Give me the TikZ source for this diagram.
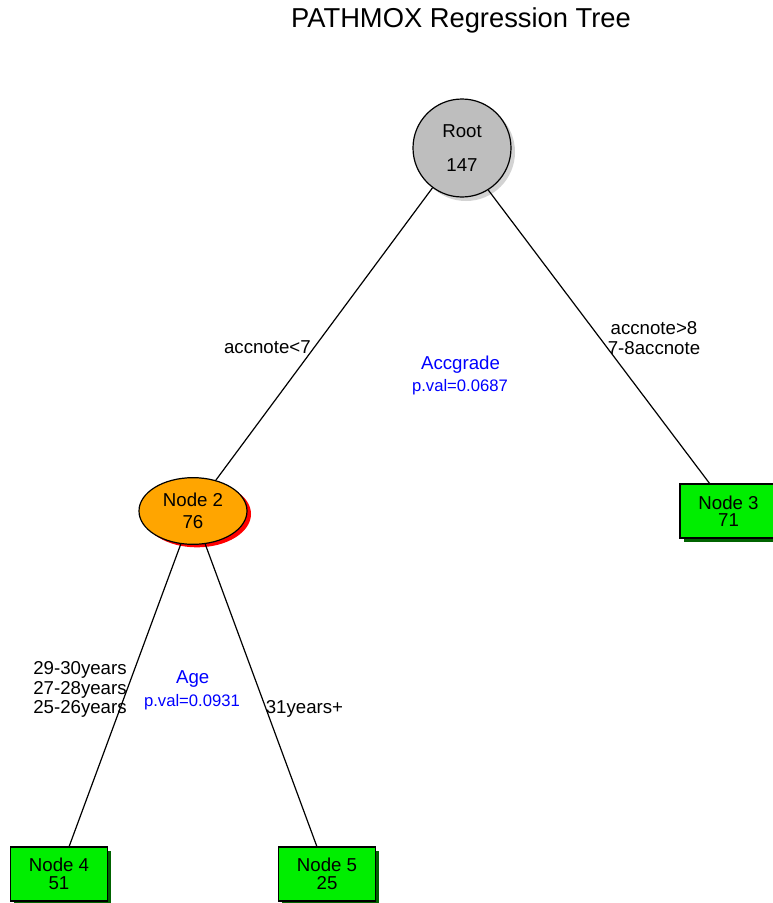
\documentclass[tikz,border=0pt]{standalone}
\usepackage{fontspec}
\setmainfont{Liberation Sans}
\usetikzlibrary{shapes.geometric}
\definecolor{rootgray}{HTML}{BEBEBE}
\definecolor{rootshadow}{HTML}{D3D3D3}
\definecolor{leafgreen}{HTML}{00EE00}
\definecolor{leafshadow}{HTML}{006400}
\definecolor{nodeorange}{HTML}{FFA500}
\definecolor{statblue}{HTML}{0000FF}
\begin{document}
\begin{tikzpicture}[x=0.75pt,y=-0.75pt,
  txt/.style={font=\fontsize{14}{14.6}\selectfont, inner sep=0pt, align=center},
  lbl/.style={font=\fontsize{14}{14.6}\selectfont, inner sep=0pt, align=center},
  stat/.style={text=statblue, inner sep=0pt},
  statname/.style={stat, font=\fontsize{14}{15}\selectfont},
  statp/.style={stat, font=\fontsize{12.5}{13}\selectfont},
  edge/.style={draw=black, line width=0.9pt},
  rootshape/.style={circle, minimum size=73.5pt, inner sep=0pt},
  midshape/.style={ellipse, minimum width=81pt, minimum height=50pt, inner sep=0pt},
  leafshape/.style={rectangle, minimum width=72.75pt, minimum height=40.5pt, inner sep=0pt},
  rootnode/.style={rootshape, draw=black, line width=0.9pt, fill=rootgray},
  midnode/.style={midshape, draw=black, line width=0.9pt, fill=nodeorange},
  leafnode/.style={leafshape, draw=black, line width=0.9pt, fill=leafgreen},
]
\useasboundingbox (0,0) rectangle (772,903);

% title
\node[font=\fontsize{20.5}{22}\selectfont, inner sep=0pt] (title) at (461,20) {PATHMOX Regression Tree};

% shadows under the nodes
\node[rootshape, fill=rootshadow] (rootsh) at (466,152) {};
\node[midshape, fill=red] (n2sh) at (197,514) {};
\node[leafshape, fill=leafshadow] (n3sh) at (732,514.5) {};
\node[leafshape, fill=leafshadow] (n4sh) at (62.5,877.5) {};
\node[leafshape, fill=leafshadow] (n5sh) at (330.5,877.5) {};

% node centres and the top end of the right-hand branch
\coordinate (root0) at (462,148);
\coordinate (n20) at (193,511);
\coordinate (n30) at (710,484);
\coordinate (n40) at (59,874);
\coordinate (n50) at (327,874);

% nodes
\node[rootnode, txt] (root) at (root0) {Root\\[11pt]147};
\node[midnode, txt] (n2) at (n20) {Node 2\\[1.5pt]76};
\node[leafnode, txt] (n3) at (728.5,511) {Node 3\\[-1.5pt]71};
\node[leafnode, txt] (n4) at (n40) {Node 4\\[-1.5pt]51};
\node[leafnode, txt] (n5) at (n50) {Node 5\\[-1.5pt]25};

% connectors
\draw[edge] (root) -- (n2);
\draw[edge] (root.-58) -- (n30);
\draw[edge] (n2) -- (n4);
\draw[edge] (n2) -- (n5);

% split labels
\node[lbl, anchor=east] (l1) at (311,347) {accnote<7};
\node[lbl] (l2) at (654,338) {accnote>8\\7-8accnote};
\node[lbl] (l3) at (80,689.5) {29-30years\\27-28years\\25-26years};
\node[lbl] (l4) at (304.5,709) {31years+};

% split variables and p-values
\node[statname] (s1) at (460.5,365) {Accgrade};
\node[statp] (p1) at (460,387) {p.val=0.0687};
\node[statname] (s2) at (192.7,679) {Age};
\node[statp] (p2) at (192,702) {p.val=0.0931};
\end{tikzpicture}
\end{document}
